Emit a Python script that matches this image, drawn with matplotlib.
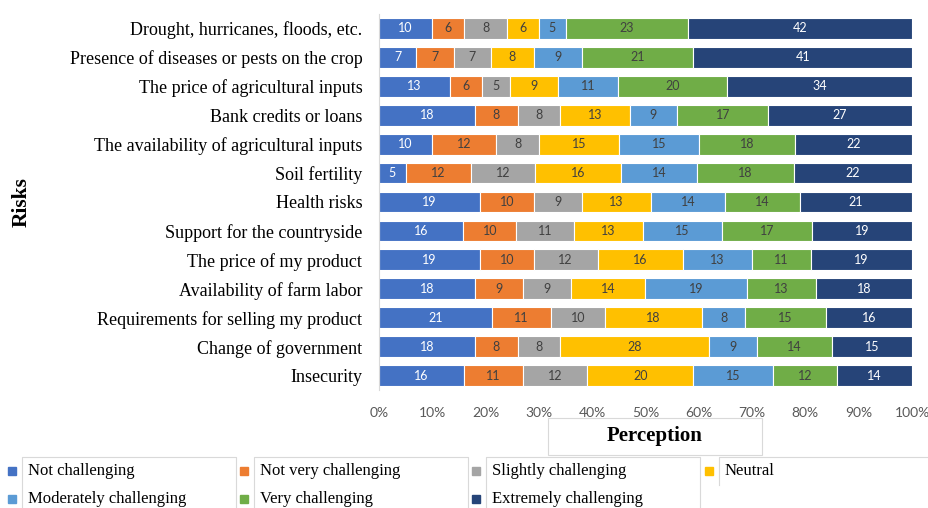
import matplotlib
matplotlib.use("Agg")
import matplotlib.pyplot as plt
import numpy as np
from matplotlib.patches import Rectangle
from matplotlib.lines import Line2D

# categories listed bottom -> top (as drawn on the y axis)
risks = [
    "Insecurity",
    "Change of government",
    "Requirements for selling my product",
    "Availability of farm labor",
    "The price of my product",
    "Support for the countryside",
    "Health risks",
    "Soil fertility",
    "The availability of agricultural inputs",
    "Bank credits or loans",
    "The price of agricultural inputs",
    "Presence of diseases or pests on the crop",
    "Drought, hurricanes, floods, etc.",
]
levels = [
    "Not challenging",
    "Not very challenging",
    "Slightly challenging",
    "Neutral",
    "Moderately challenging",
    "Very challenging",
    "Extremely challenging",
]
not_challenging = [16, 18, 21, 18, 19, 16, 19, 5, 10, 18, 13, 7, 10]
not_very = [11, 8, 11, 9, 10, 10, 10, 12, 12, 8, 6, 7, 6]
slightly = [12, 8, 10, 9, 12, 11, 9, 12, 8, 8, 5, 7, 8]
neutral = [20, 28, 18, 14, 16, 13, 13, 16, 15, 13, 9, 8, 6]
moderately = [15, 9, 8, 19, 13, 15, 14, 14, 15, 9, 11, 9, 5]
very = [12, 14, 15, 13, 11, 17, 14, 18, 18, 17, 20, 21, 23]
extremely = [14, 15, 16, 18, 19, 19, 21, 22, 22, 27, 34, 41, 42]

colors = ["#4472C4", "#ED7D31", "#A5A5A5", "#FFC000", "#5B9BD5", "#70AD47", "#264478"]
label_colors = ["white", "#404040", "#404040", "#404040", "#404040", "#404040", "white"]

SERIF = "Liberation Serif"
SANS = "Lato"

data = np.array([not_challenging, not_very, slightly, neutral, moderately, very, extremely], dtype=float)
share = data / data.sum(axis=0)

fig = plt.figure(figsize=(9.29, 5.08), dpi=100)
ax = fig.add_axes([379 / 929, 1 - 390 / 508, (912 - 379) / 929, (390 - 14) / 508])

y = np.arange(len(risks))
left = np.zeros(len(risks))
for k, name in enumerate(levels):
    bars = ax.barh(y, share[k], left=left, height=0.72, color=colors[k],
                   edgecolor="white", linewidth=0.8, label=name)
    ax.bar_label(bars, labels=[f"{int(v)}" for v in data[k]], label_type="center",
                 color=label_colors[k], fontsize=9, family=SANS)
    left += share[k]

ax.set_xlim(0, 1)
ax.set_ylim(-0.5, len(risks) - 0.5)
ax.set_yticks(y, labels=risks, family=SERIF, fontsize=13)
ax.set_xticks(np.linspace(0, 1, 11), labels=[f"{i}%" for i in range(0, 101, 10)])
ax.tick_params(axis="x", colors="#595959", labelsize=10, length=0, pad=12)
ax.tick_params(axis="y", length=0, pad=12)
for t in ax.get_xticklabels():
    t.set_family(SANS)
for s in ["top", "right", "bottom"]:
    ax.spines[s].set_visible(False)
ax.spines["left"].set_color("#D9D9D9")
ax.set_ylabel("Risks", family=SERIF, fontsize=15.5, fontweight="bold", labelpad=0)
ax.yaxis.set_label_coords((32 - 379) / 533, 0.5)

# axis title box
fig.patches.append(Rectangle((548 / 929, 1 - 455 / 508), 214 / 929, 37 / 508,
                             transform=fig.transFigure, fill=False,
                             edgecolor="#D9D9D9", linewidth=0.8))
fig.text(655 / 929, 1 - 436 / 508, "Perception", family=SERIF, fontsize=15,
         fontweight="bold", ha="center", va="center")

# legend laid out as a 4-column grid
col_x = [8, 240, 472, 705]
row_y = [471, 499]
box_left = [22, 254, 486, 719]
box_right = [236, 468, 700, 929]
for k, name in enumerate(levels):
    c, r = k % 4, k // 4
    fig.patches.append(Rectangle((col_x[c] / 929, 1 - (row_y[r] + 4) / 508), 8 / 929, 8 / 508,
                                 transform=fig.transFigure, color=colors[k]))
    fig.text((col_x[c] + 20) / 929, 1 - row_y[r] / 508, name, family=SERIF,
             fontsize=12, va="center", ha="left")
for c in range(4):
    bottom = 485 if c == 3 else 508
    xs = [box_left[c] / 929, box_left[c] / 929, box_right[c] / 929, box_right[c] / 929]
    ys = [1 - bottom / 508, 1 - 457 / 508, 1 - 457 / 508, 1 - bottom / 508]
    if c == 3:
        xs, ys = xs[:3], ys[:3]
    fig.add_artist(Line2D(xs, ys, transform=fig.transFigure, color="#D9D9D9", linewidth=0.8))

fig.savefig("out.png", dpi=100)
